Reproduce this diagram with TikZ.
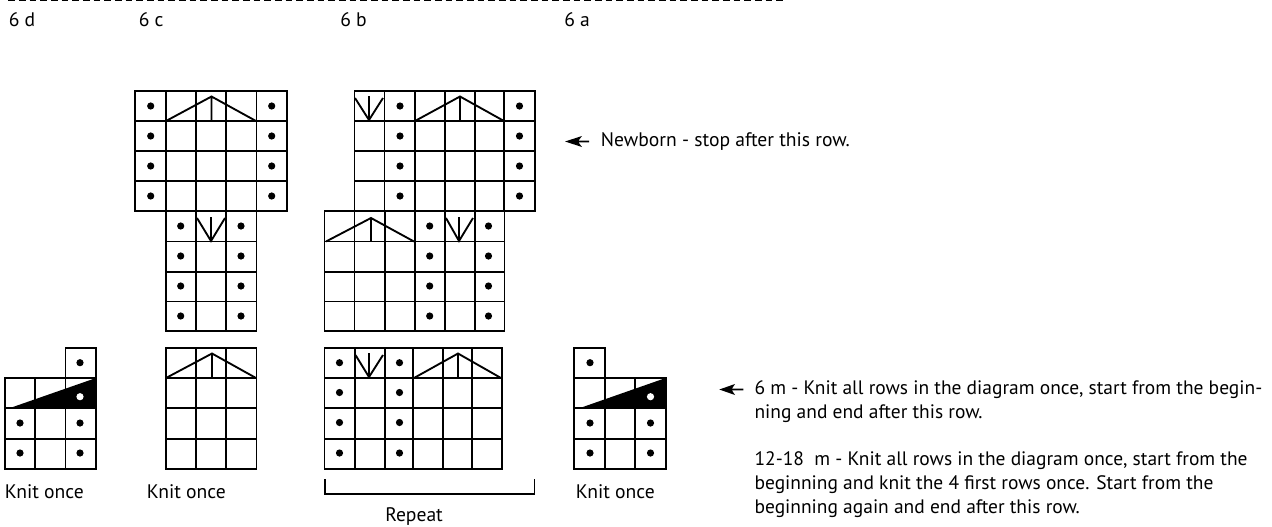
\documentclass[tikz,border=0pt]{standalone}
\usepackage{fontspec}
\setmainfont{PT Sans}
\tikzset{
  px/.style={x=0.75pt,y=-0.75pt},
  gridline/.style={line width=1.25pt,black,line cap=rect},
  symline/.style={line width=1.4pt,black,line join=miter},
  stitchdot/.style={circle,fill=black,draw=none,inner sep=0pt,minimum size=5.4pt},
  whitedot/.style={circle,fill=white,draw=none,inner sep=0pt,minimum size=5.4pt},
  lbl/.style={inner sep=0pt,font=\fontsize{14.7pt}{15pt}\selectfont,text=black,anchor=base west},
  para/.style={inner sep=0pt,font=\fontsize{14.6pt}{18pt}\selectfont,text=black,align=left,anchor=north west},
}
\begin{document}
\begin{tikzpicture}[px]
\useasboundingbox (0,0) rectangle (1272,526);
\draw[line width=1.1pt,dash pattern=on 5pt off 3pt] (8.3,0.6) -- (783,0.6);
\node[lbl] (l6d) at (8.5,26) {6 d};
\node[lbl] (l6c) at (138.5,26) {6 c};
\node[lbl] (l6b) at (340,26) {6 b};
\node[lbl] (l6a) at (564,26) {6 a};
% 6c upper
\draw[gridline] (135,91) rectangle (287,211);
\foreach \x in {165.7,196,226,256.5} \draw[gridline] (\x,91) -- (\x,211);
\foreach \y in {121,151,181} \draw[gridline] (135,\y) -- (287,\y);
\foreach \y in {106,136,166,196}{\node[stitchdot] at (150.7,\y) {};\node[stitchdot] at (271.7,\y) {};}
\draw[symline] (166,121) -- (211.5,96.5) -- (256,121) (211.5,96.5) -- (211.5,121);
% 6c mid
\draw[gridline] (165.7,211) rectangle (256.5,331);
\foreach \x in {196,226} \draw[gridline] (\x,211) -- (\x,331);
\foreach \y in {241.5,271.7,301.5} \draw[gridline] (165.7,\y) -- (256.5,\y);
\foreach \y in {226,256,286,316}{\node[stitchdot] at (180.7,\y) {};\node[stitchdot] at (241,\y) {};}
\draw[symline] (197,218) -- (211,241) -- (225,218) (211,217) -- (211,241);
% 6b upper
\draw[gridline] (354.4,91) -- (534.7,91) -- (534.7,211) -- (324.4,211);
\draw[gridline] (354.4,91) -- (354.4,211);
\foreach \x in {384.5,414.7,445,474.7,504.3} \draw[gridline] (\x,91) -- (\x,211);
\foreach \y in {121,151,181} \draw[gridline] (354.4,\y) -- (534.7,\y);
\foreach \y in {106,136,166,196}{\node[stitchdot] at (400,\y) {};\node[stitchdot] at (519.5,\y) {};}
\draw[symline] (355,98) -- (369,120) -- (383,98) (369,96) -- (369,120);
\draw[symline] (415,121) -- (460,96.5) -- (504,121) (460,96.5) -- (460,121);
% 6b mid
\draw[gridline] (324.4,211) rectangle (504.4,331);
\foreach \x in {354.5,384.7,414.7,445,475} \draw[gridline] (\x,211) -- (\x,331);
\foreach \y in {241.5,271.7,301.5} \draw[gridline] (324.4,\y) -- (504.4,\y);
\foreach \y in {226,256,286,316}{\node[stitchdot] at (429.7,\y) {};\node[stitchdot] at (488.5,\y) {};}
\draw[symline] (326,241.5) -- (371,218) -- (414,241.5) (371,218) -- (371,241.5);
\draw[symline] (446,218) -- (459,241) -- (473,218) (459,217) -- (459,241);
% 6d
\fill (10,408) -- (96,378) -- (96,408) -- cycle;
\draw[gridline] (4.7,378) rectangle (96,469);
\draw[gridline] (65.5,348.3) rectangle (96,378);
\foreach \x in {35,65.5} \draw[gridline] (\x,378) -- (\x,469);
\foreach \y in {408,438.7} \draw[gridline] (4.7,\y) -- (96,\y);
\foreach \p in {(80,362.7),(20,423),(80,423),(20,453),(80,453)} \node[stitchdot] at \p {};
\node[whitedot] at (80,396.7) {};
% 6c bottom
\draw[gridline] (165.7,348.3) rectangle (256.5,469);
\foreach \x in {196,226} \draw[gridline] (\x,348.3) -- (\x,469);
\foreach \y in {378,408,438.7} \draw[gridline] (165.7,\y) -- (256.5,\y);
\draw[symline] (166,378) -- (212,353.5) -- (256,378) (212,353.5) -- (212,378);
% 6b bottom
\draw[gridline] (324.4,348.3) rectangle (501.7,469);
\foreach \x in {355,385,413.3,443.3,471.7} \draw[gridline] (\x,348.3) -- (\x,469);
\foreach \y in {378,408,438.7} \draw[gridline] (324.4,\y) -- (501.7,\y);
\foreach \y in {362.7,392.5,422.5,453}{\node[stitchdot] at (339.5,\y) {};\node[stitchdot] at (399.5,\y) {};}
\draw[symline] (355.5,355) -- (369,377) -- (383,355) (369,353) -- (369,377);
\draw[symline] (414,378) -- (458,353.5) -- (501,378) (458,353.5) -- (458,378);
% 6a
\fill (580,408) -- (665.7,378) -- (665.7,408) -- cycle;
\draw[gridline] (574.3,378) rectangle (665.7,469);
\draw[gridline] (574.3,348.3) rectangle (605,378);
\foreach \x in {605,635} \draw[gridline] (\x,378) -- (\x,469);
\foreach \y in {408,438.7} \draw[gridline] (574.3,\y) -- (665.7,\y);
\foreach \p in {(590,362.7),(590,423),(650.5,423),(590,453),(650.5,453)} \node[stitchdot] at \p {};
\node[whitedot] at (650.5,396.7) {};
% bracket
\draw[line width=1pt] (325,479.3) -- (325,494) -- (534.3,494) -- (534.3,479.3);
\node[lbl] (k1) at (4.7,498.3) {Knit once};
\node[lbl] (k2) at (146.7,498.3) {Knit once};
\node[lbl] (k3) at (575.7,498.3) {Knit once};
\node[lbl] (rep) at (385,521) {Repeat};
\node[lbl] (nb) at (600.7,146.7) {Newborn - stop after this row.};
\node[para] (t1) at (754.3,380.4) {6 m - Knit all rows in the diagram once, start from the begin-\\ning and end after this row.};
\node[para] (t2) at (754.3,451.4) {12-18\ \ m - Knit all rows in the diagram once, start from the\\beginning and knit the 4 first rows once. Start from the\\beginning again and end after this row.};
\fill (565,141.5) -- (582,136) -- (578.5,140.6) -- (589,140.6) -- (589,142.4) -- (578.5,142.4) -- (582,147) -- cycle;
\fill (719.3,389.5) -- (735,384) -- (732,388.6) -- (743.3,388.6) -- (743.3,390.4) -- (732,390.4) -- (735,395) -- cycle;
\end{tikzpicture}
\end{document}
